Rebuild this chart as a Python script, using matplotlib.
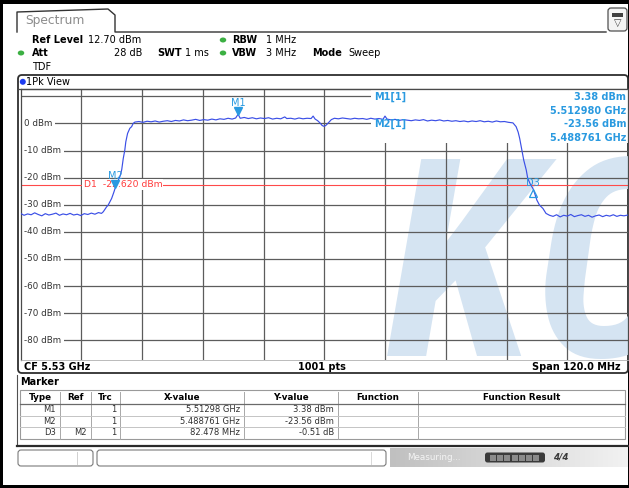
import numpy as np
import matplotlib
matplotlib.use('Agg')
import matplotlib.pyplot as plt
from matplotlib.colors import LinearSegmentedColormap
from matplotlib.patches import Rectangle, FancyBboxPatch, Ellipse
from matplotlib.transforms import offset_copy

# ---- data ----
CENTER_MHZ = 5530.0
SPAN_MHZ = 120.0
REF_LEVEL = 12.7
RANGE_DB = 100.0
START_MHZ = CENTER_MHZ - SPAN_MHZ / 2

# trace 1 (1Pk View), offsets in MHz from the start frequency
trace_offset_mhz = [
    0.0, 0.7, 1.4, 2.1, 2.8, 3.5, 4.2, 4.9, 5.6, 6.3, 7.0, 7.7, 8.4, 9.1, 9.8,
    10.5, 11.2, 11.9, 12.6, 13.3, 14.0, 14.7, 15.4, 16.0,
    16.35, 17.0, 17.33, 18.0, 18.4, 18.761, 19.1, 19.4, 19.7, 20.0, 20.3, 20.6,
    20.8, 21.15, 21.6, 21.95, 22.26, 22.6,
    23.4, 24.2, 25.0, 25.8, 26.6, 27.4, 28.2, 29.0, 29.8, 30.6, 31.4, 32.2, 33.0,
    33.8, 34.6, 35.4, 36.2, 37.0, 37.8, 38.6, 39.4, 40.2, 41.0, 41.8, 42.5, 42.98,
    43.4, 44.2, 45.0, 45.8, 46.6, 47.4, 48.2, 49.0, 49.8, 50.6, 51.4, 52.2, 52.6,
    53.4, 54.2, 55.0, 55.8, 56.6, 57.4, 57.8, 58.2, 58.7, 59.2, 59.6, 60.0, 60.4,
    60.9, 61.4, 62.0, 62.8, 63.6, 64.4, 65.2, 66.0, 66.8, 67.6, 68.4, 69.2, 70.0,
    70.8, 71.6, 72.0, 72.4, 73.2, 74.0, 74.8, 75.6, 76.4, 77.2, 78.0, 78.8, 79.6,
    80.4, 81.2, 82.0, 82.8, 83.6, 84.4, 85.2, 86.0, 86.8, 87.6, 88.4, 89.2, 90.0,
    90.8, 91.6, 92.4, 93.2, 94.0, 94.8, 95.6, 96.4, 97.27,
    97.9, 98.3, 98.6, 98.9, 99.15, 99.4, 99.9, 100.2, 100.7, 101.239, 101.6, 102.0,
    102.5, 103.2, 103.8,
    104.5, 105.2, 105.9, 106.6, 107.3, 108.0, 108.7, 109.4, 110.1, 110.8, 111.5,
    112.2, 112.9, 113.6, 114.3, 115.0, 115.7, 116.4, 117.1, 117.8, 118.5, 119.2,
    120.0,
]
trace_dbm = [
    -33.2, -33.9, -33.4, -33.7, -33.0, -33.6, -34.1, -33.3, -33.8, -33.5, -33.1,
    -33.9, -33.4, -33.7, -33.2, -33.8, -33.5, -34.0, -33.3, -33.6, -33.1, -33.5,
    -32.9, -33.2,
    -32.6, -30.8, -30.1, -27.7, -25.6, -23.56, -22.2, -20.6, -19.3, -17.0, -12.9,
    -9.9, -6.8, -3.7, -1.8, -1.2, 0.0, 0.5,
    0.7, 0.4, 0.8, 0.6, 0.9, 0.5, 0.8, 1.0, 0.7, 1.1, 0.9, 1.3, 1.0, 1.2, 1.5, 1.1,
    1.4, 1.2, 1.6, 1.3, 1.7, 1.5, 1.9, 1.6, 2.0, 3.38,
    1.9, 2.2, 1.8, 2.1, 1.7, 2.0, 1.8, 2.1, 1.6, 1.9, 1.7, 2.4, 1.8,
    1.9, 1.6, 2.0, 1.7, 1.9, 1.8, 2.7, 1.6, 1.0, 0.1, -0.8, -1.1, -0.6,
    0.4, 1.4, 1.9, 1.7, 2.0, 1.8, 1.6, 1.9, 1.7, 1.8, 1.5, 1.9, 1.6,
    1.8, 1.5, 2.7, 1.6, 1.3, 1.5, 1.1, 1.4, 1.2, 1.0, 1.3, 1.1, 1.4,
    0.9, 1.2, 1.0, 1.3, 0.9, 1.1, 0.8, 1.0, 0.7, 0.9, 0.6, 0.9, 0.7,
    1.0, 0.6, 0.8, 0.5, 0.9, 0.6, 0.7, 0.4, 0.2,
    -1.2, -3.2, -5.5, -8.6, -11.0, -13.5, -17.2, -20.3, -22.4, -24.07, -26.0,
    -28.3, -30.1, -31.4, -33.2,
    -33.9, -34.3, -33.7, -34.5, -33.9, -34.2, -33.6, -34.4, -34.0, -33.7, -34.3,
    -33.9, -34.6, -34.1, -33.8, -34.4, -33.9, -34.2, -33.7, -34.3, -33.9, -34.1,
    -33.8,
]

grid_levels = [10, 0, -10, -20, -30, -40, -50, -60, -70, -80]
labelled_levels = [0, -10, -20, -30, -40, -50, -60, -70, -80]

marker_names = ['M1', 'M2']
marker_freq_mhz = [5512.98, 5488.761]
marker_dbm = [3.38, -23.56]
delta_name = 'D3'
delta_ref_index = 1
delta_offset_mhz = 82.478
delta_db = -0.51
display_line_dbm = -22.62

info_lines = ['M1[1]', '3.38 dBm', '5.512980 GHz', 'M2[1]', '-23.56 dBm', '5.488761 GHz']

table_cols = ['Type', 'Ref', 'Trc', 'X-value', 'Y-value', 'Function', 'Function Result']
table_rows = [
    ['M1', '', '1', '5.51298 GHz', '3.38 dBm', '', ''],
    ['M2', '', '1', '5.488761 GHz', '-23.56 dBm', '', ''],
    ['D3', 'M2', '1', '82.478 MHz', '-0.51 dB', '', ''],
]

# ---- screen layout (pixels) ----
W, H = 629, 488
X0, X1, Y0, Y1 = 20.5, 628.0, 89.0, 360.0
TRACE_BLUE = '#3b4fe6'
MK_BLUE = '#2a9ae0'
GRID = '#5c5c5c'
GREEN = '#3cb043'
FS = 7.0
FS_S = 6.3

plt.rcParams['font.family'] = ['DejaVu Sans']

fig = plt.figure(figsize=(W / 100, H / 100), dpi=100)
bg = fig.add_axes([0, 0, 1, 1], zorder=0)
bg.set_xlim(0, W)
bg.set_ylim(H, 0)
bg.axis('off')

ax = fig.add_axes([X0 / W, 1 - Y1 / H, (X1 - X0) / W, (Y1 - Y0) / H], zorder=1)
ax.patch.set_visible(False)
ax.set_xlim(START_MHZ, START_MHZ + SPAN_MHZ)
ax.set_ylim(REF_LEVEL - RANGE_DB, REF_LEVEL)
ax.set_xticks([])
ax.set_yticks([])
for side in ['left', 'top', 'right']:
    ax.spines[side].set_color('#4a4a4a')
    ax.spines[side].set_linewidth(0.9)
ax.spines['bottom'].set_color('#b0b0b0')
ax.spines['bottom'].set_linewidth(0.6)


def fx(px):
    return START_MHZ + (px - X0) / (X1 - X0) * SPAN_MHZ


def fy(py):
    return REF_LEVEL - (py - Y0) / (Y1 - Y0) * RANGE_DB


# outer black border of the screenshot
bg.add_patch(Rectangle((0, 0), W, 4, color='black', lw=0))
bg.add_patch(Rectangle((0, 0), 3, H, color='black', lw=0))
bg.add_patch(Rectangle((627.6, 0), 2, H, color='black', lw=0))
bg.add_patch(Rectangle((0, 485), W, 3, color='black', lw=0))

# "Spectrum" tab
bg.plot([17, 17, 108, 115, 115, 606], [32, 12, 9, 15, 32, 32], color='#333333', lw=1.0,
        solid_joinstyle='round')
bg.text(25, 20.5, 'Spectrum', fontsize=8.8, color='#8c8c8c', va='center', ha='left')
bg.add_patch(FancyBboxPatch((608, 8), 19, 23, boxstyle='round,pad=0,rounding_size=3',
                            fc='#f4f4f4', ec='#505050', lw=0.9))
bg.add_patch(Rectangle((611.5, 12.5), 11, 4, fc='#404040', ec='none'))
bg.text(617.5, 23, '\u25bd', fontsize=7, color='#404040', ha='center', va='center')


# setting lines
def dot(x, y):
    bg.add_patch(Ellipse((x, y), 6.5, 5, fc=GREEN, ec='none'))


bg.text(32, 40, 'Ref Level', fontsize=FS, fontweight='bold', va='center')
bg.text(88, 40, '12.70 dBm', fontsize=FS, va='center')
dot(223, 40)
bg.text(232, 40, 'RBW', fontsize=FS, fontweight='bold', va='center')
bg.text(266, 40, '1 MHz', fontsize=FS, va='center')
dot(21, 53)
bg.text(32, 53, 'Att', fontsize=FS, fontweight='bold', va='center')
bg.text(142, 53, '28 dB', fontsize=FS, va='center', ha='right')
bg.text(157, 53, 'SWT', fontsize=FS, fontweight='bold', va='center')
bg.text(185, 53, '1 ms', fontsize=FS, va='center')
dot(223, 53)
bg.text(232, 53, 'VBW', fontsize=FS, fontweight='bold', va='center')
bg.text(266, 53, '3 MHz', fontsize=FS, va='center')
bg.text(312, 53, 'Mode', fontsize=FS, fontweight='bold', va='center')
bg.text(348, 53, 'Sweep', fontsize=FS, va='center')
bg.text(32, 66.5, 'TDF', fontsize=FS, va='center')

# diagram frame and "1Pk View" header
bg.add_patch(FancyBboxPatch((18, 75), 610, 298, boxstyle='round,pad=0,rounding_size=4',
                            fc='white', ec='#2e2e2e', lw=1.3))
bg.plot([18, 628], [89, 89], color='#4a4a4a', lw=0.9)
bg.add_patch(Ellipse((22.8, 81.8), 6, 6, fc='#1e3cf0', ec='none'))
bg.text(26.5, 82, '1Pk View', fontsize=FS, va='center')
bg.text(24, 366.5, 'CF 5.53 GHz', fontsize=FS, fontweight='bold', va='center')
bg.text(322, 366.5, '1001 pts', fontsize=FS, fontweight='bold', va='center', ha='center')
bg.text(621, 366.5, 'Span 120.0 MHz', fontsize=FS, fontweight='bold', va='center', ha='right')

# ---- diagram content ----
# watermark behind the grid
ax.text(fx(386), fy(356), 'KC', fontsize=200, fontweight='bold', fontstyle='italic',
        family=['Roboto Condensed', 'DejaVu Sans'],
        color='#d5e4f2', ha='left', va='baseline', zorder=0.5, clip_on=True)

for lvl in grid_levels:
    ax.axhline(lvl, color=GRID, lw=0.9, zorder=1)
for k in range(1, 10):
    ax.axvline(START_MHZ + k * SPAN_MHZ / 10, color=GRID, lw=0.9, zorder=1)

# marker info field covers the grid in the upper right corner
ax.add_patch(Rectangle((fx(371), fy(143)), START_MHZ + SPAN_MHZ - fx(371),
                       REF_LEVEL - fy(143), fc='white', ec='none', zorder=1.5))

for lvl in labelled_levels:
    ax.text(fx(24.5), lvl, f'{lvl} dBm', fontsize=FS_S, color='#333333', va='center',
            ha='left', zorder=2, bbox=dict(fc='white', ec='none', pad=1.6))

ax.axhline(display_line_dbm, color='#ff4a4a', lw=0.8, zorder=2.5)
ax.text(fx(83.5), display_line_dbm, f'D1  {display_line_dbm:.3f} dBm', fontsize=6.7,
        color='#ff3c3c', va='center', ha='left', zorder=3,
        bbox=dict(fc='white', ec='none', pad=0.8))

trace_freq = [START_MHZ + f for f in trace_offset_mhz]
ax.plot(trace_freq, trace_dbm, color=TRACE_BLUE, lw=0.85, zorder=4)

tri = offset_copy(ax.transData, fig=fig, x=0, y=3, units='dots')
lab = offset_copy(ax.transData, fig=fig, x=0, y=11, units='dots')
for name, f, l in zip(marker_names, marker_freq_mhz, marker_dbm):
    ax.plot([f], [l], marker='v', ms=5.2, color=MK_BLUE, mec=MK_BLUE, transform=tri, zorder=5)
    ax.text(f, l, name, fontsize=FS, color=MK_BLUE, ha='center', va='center',
            transform=lab, zorder=5)

d_f = marker_freq_mhz[delta_ref_index] + delta_offset_mhz
d_l = marker_dbm[delta_ref_index] + delta_db
tri_d = offset_copy(ax.transData, fig=fig, x=0, y=-4, units='dots')
lab_d = offset_copy(ax.transData, fig=fig, x=0, y=6, units='dots')
ax.plot([d_f], [d_l], marker='^', ms=5.2, mfc='none', mec=MK_BLUE, mew=0.9,
        transform=tri_d, zorder=5)
ax.text(d_f, d_l, delta_name, fontsize=FS, color=MK_BLUE, ha='center', va='center',
        transform=lab_d, zorder=5)

info_y = [97, 110.5, 124, 137.5]
ax.text(fx(374), fy(info_y[0]), info_lines[0], fontsize=FS, fontweight='bold',
        color=MK_BLUE, va='center', zorder=6)
ax.text(fx(374), fy(info_y[2]), info_lines[3], fontsize=FS, fontweight='bold',
        color=MK_BLUE, va='center', zorder=6)
for txt, yy in zip([info_lines[1], info_lines[2], info_lines[4], info_lines[5]], info_y):
    ax.text(fx(626), fy(yy), txt, fontsize=FS, fontweight='bold', color=MK_BLUE,
            va='center', ha='right', zorder=6)

# ---- marker table ----
bg.plot([17, 17], [375, 446], color='#505050', lw=0.8)
bg.plot([17, 628], [446, 446], color='#2a2a2a', lw=1.6)
bg.text(20, 382, 'Marker', fontsize=FS, fontweight='bold', va='center')

col_edges = [20, 60, 91, 120, 244, 338, 418, 625]
row_edges = [390, 404, 415.5, 427, 438.5]
bg.add_patch(Rectangle((col_edges[0], row_edges[0]), col_edges[-1] - col_edges[0],
                       row_edges[-1] - row_edges[0], fc='white', ec='#9a9a9a', lw=0.8))
for xe in col_edges[1:-1]:
    bg.plot([xe, xe], [row_edges[0] + 1.5, row_edges[-1]], color='#a8a8a8', lw=0.7)
bg.plot([col_edges[0], col_edges[-1]], [row_edges[1], row_edges[1]], color='#6a6a6a', lw=0.9)
for ye in row_edges[2:-1]:
    bg.plot([col_edges[0], col_edges[-1]], [ye, ye], color='#c4c4c4', lw=0.7)

for i, name in enumerate(table_cols):
    xc = (col_edges[i] + col_edges[i + 1]) / 2
    bg.text(xc, (row_edges[0] + row_edges[1]) / 2, name, fontsize=FS_S, fontweight='bold',
            ha='center', va='center')
for r, row in enumerate(table_rows):
    yc = (row_edges[r + 1] + row_edges[r + 2]) / 2
    for i, val in enumerate(row):
        if val:
            bg.text(col_edges[i + 1] - 4, yc, val, fontsize=6.0, color='#303030',
                    ha='right', va='center')

# ---- status bar ----
bg.add_patch(FancyBboxPatch((18, 450), 75, 16, boxstyle='round,pad=0,rounding_size=3',
                            fc='white', ec='#7a7a7a', lw=0.8))
bg.plot([77, 77], [452, 464], color='#d0d0d0', lw=0.7)
bg.add_patch(FancyBboxPatch((97, 450), 289, 16, boxstyle='round,pad=0,rounding_size=3',
                            fc='white', ec='#7a7a7a', lw=0.8))
bg.plot([371, 371], [452, 464], color='#d8d8d8', lw=0.7)
grad = np.linspace(0, 1, 200)[None, :]
bg.imshow(grad, extent=(390, 627.5, 467, 448),
          cmap=LinearSegmentedColormap.from_list('sb', ['#c0c0c0', '#f2f2f2']),
          aspect='auto', zorder=0.5)
bg.text(407, 457.5, 'Measuring...', fontsize=FS_S, color='#f4f4f4', va='center', zorder=1)
bg.add_patch(FancyBboxPatch((485, 452.5), 60, 10, boxstyle='round,pad=0,rounding_size=2.5',
                            fc='#3a3a3a', ec='none', zorder=1))
for k in range(7):
    bg.add_patch(Rectangle((490 + k * 7.2, 454.5), 6, 6, fc='#8a8a8a', ec='none', zorder=1.2))
bg.text(553, 457.5, '4/4', fontsize=FS_S, fontweight='bold', fontstyle='italic',
        color='#3a3a3a', va='center', zorder=1)
bg.set_xlim(0, W)
bg.set_ylim(H, 0)

fig.savefig('out.png', dpi=100)
